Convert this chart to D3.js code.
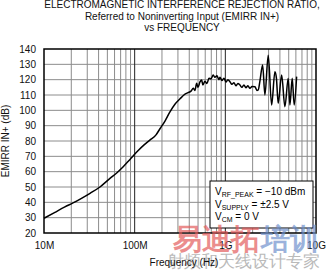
<!DOCTYPE html>
<html>
<head>
<meta charset="utf-8">
<script src="https://cdn.jsdelivr.net/npm/d3@7"></script>
<style>
  body { margin: 0; background: #fff; }
  text { font-family: "Liberation Sans", Arial, sans-serif; }
</style>
</head>
<body>
<div id="chart"></div>
<script>
// frequency in MHz, EMIRR IN+ in dB
const freqMHz = [10, 13.2, 17.0, 20.9, 26.2, 32.2, 41.4, 53.4, 63.8, 74.3, 88.8, 106, 127, 147, 172, 190, 216, 245, 278, 316, 359, 387,
  418, 443, 462, 483, 499, 525, 548, 566, 596, 627, 660, 694, 736, 768, 808, 850, 872, 917, 965, 1015, 1068, 1124, 1182, 1244,
  1309, 1377, 1449, 1524, 1604, 1687, 1775, 1867, 1965, 2121, 2231, 2306, 2407, 2578, 2733, 2972, 3240, 3523, 3659, 3830,
  4176, 4541, 4937, 5154, 5465, 5749, 6111];
const emirr = [29.6, 33.5, 37, 39.6, 42.8, 45.9, 50, 55.6, 59.3, 63, 68, 73, 77.5, 80.6, 84, 88, 93, 99, 104, 107.5, 110.5, 111.5,
  112.5, 114.4, 113, 117.6, 115, 118.5, 119.8, 116.5, 119, 117.5, 121, 120.5, 123, 121.5, 122.5, 120, 121.5, 119.5, 121, 118.5,
  120, 118.7, 117, 118, 116, 117.5, 116.5, 115, 116.5, 114.8, 116, 114.4, 115.5, 115.4, 113, 113.3, 119, 129.6, 110, 136, 103.5,
  125.2, 121, 104.6, 123, 102.4, 120.9, 103.5, 120.9, 103.5, 122];

const yTicks = [20, 30, 40, 50, 60, 70, 80, 90, 100, 110, 120, 130, 140];
const xTicks = [1e7, 1e8, 1e9, 1e10];
const xTickLabels = ["10M", "100M", "1G", "10G"];
const titleLines = ["ELECTROMAGNETIC INTERFERENCE REJECTION RATIO,", "Referred to Noninverting Input (EMIRR IN+)", "vs FREQUENCY"];
const conditions = [["V", "RF_PEAK", " = \u221210 dBm"], ["V", "SUPPLY", " = \u00b12.5 V"], ["V", "CM", " = 0 V"]];

const width = 327, height = 270;
const margin = { top: 49, right: 11, bottom: 37, left: 44 };
const w = width - margin.left - margin.right;
const h = height - margin.top - margin.bottom;

const svg = d3.select("#chart").append("svg")
  .attr("width", width)
  .attr("height", height);

// title
svg.append("g").selectAll("text")
  .data(titleLines)
  .enter().append("text")
  .attr("x", 182)
  .attr("y", (d, i) => 8 + i * 11.6)
  .attr("text-anchor", "middle")
  .attr("font-size", 10)
  .attr("fill", "#111")
  .text(d => d);

const g = svg.append("g")
  .attr("transform", `translate(${margin.left},${margin.top})`);

const x = d3.scaleLog().domain([1e7, 1e10]).range([0, w]);
const y = d3.scaleLinear().domain([20, 140]).range([h, 0]);

// minor vertical grid
const minor = [];
[1e7, 1e8, 1e9].forEach(dec => { for (let k = 2; k <= 9; k++) minor.push(dec * k); });

g.append("g").selectAll("line")
  .data(minor)
  .enter().append("line")
  .attr("x1", d => x(d)).attr("x2", d => x(d))
  .attr("y1", 0).attr("y2", h)
  .attr("stroke", "#8c8c8c")
  .attr("stroke-width", 1);

g.append("g").selectAll("line")
  .data(yTicks.slice(1, -1))
  .enter().append("line")
  .attr("x1", 0).attr("x2", w)
  .attr("y1", d => y(d)).attr("y2", d => y(d))
  .attr("stroke", "#8c8c8c")
  .attr("stroke-width", 1);

g.append("g").selectAll("line")
  .data(xTicks.slice(1, -1))
  .enter().append("line")
  .attr("x1", d => x(d)).attr("x2", d => x(d))
  .attr("y1", 0).attr("y2", h)
  .attr("stroke", "#222")
  .attr("stroke-width", 1);

// watermark
const wm = svg.append("g").attr("opacity", 0.85);
wm.append("text")
  .attr("x", 173).attr("y", 249)
  .attr("font-family", "Noto Sans CJK SC")
  .attr("font-weight", "bold")
  .attr("font-size", 29)
  .attr("fill", "#e35a5a")
  .attr("opacity", 0.8)
  .text("易迪拓");
wm.append("text")
  .attr("x", 261).attr("y", 249)
  .attr("font-family", "Noto Sans CJK SC")
  .attr("font-weight", "bold")
  .attr("font-size", 29)
  .attr("fill", "#6d8fcc")
  .attr("opacity", 0.8)
  .text("培训");
wm.append("text")
  .attr("x", 167).attr("y", 267)
  .attr("font-family", "Noto Sans CJK SC")
  .attr("font-size", 17)
  .attr("fill", "#9a9a9a")
  .attr("opacity", 0.8)
  .text("射频和天线设计专家");

// curve
const data = freqMHz.map((f, i) => ({ f: f * 1e6, v: emirr[i] }));
const line = d3.line()
  .x(d => x(d.f))
  .y(d => y(d.v))
  .curve(d3.curveMonotoneX);

g.append("path")
  .datum(data)
  .attr("fill", "none")
  .attr("stroke", "#000")
  .attr("stroke-width", 1.5)
  .attr("stroke-linejoin", "round")
  .attr("d", line);

// condition box
const box = g.append("g");
box.append("rect")
  .attr("x", 166).attr("y", 132)
  .attr("width", 103).attr("height", 47)
  .attr("fill", "#fff")
  .attr("stroke", "#000")
  .attr("stroke-width", 1);
conditions.forEach((c, i) => {
  const t = box.append("text")
    .attr("x", 171)
    .attr("y", 146 + i * 12.5)
    .attr("font-size", 10)
    .attr("fill", "#000");
  t.append("tspan").text(c[0]);
  t.append("tspan").attr("font-size", 7).attr("dy", 2).text(c[1]);
  t.append("tspan").attr("dy", -2).text(c[2]);
});

// border
g.append("rect")
  .attr("width", w).attr("height", h)
  .attr("fill", "none")
  .attr("stroke", "#000")
  .attr("stroke-width", 1.5);

// axes
const yAxis = g.append("g")
  .call(d3.axisLeft(y).tickValues(yTicks).tickSize(0).tickPadding(8));
yAxis.select(".domain").remove();
yAxis.selectAll("text")
  .attr("font-size", 10)
  .attr("font-family", "Liberation Sans, Arial, sans-serif")
  .attr("fill", "#111");

const xAxis = g.append("g")
  .attr("transform", `translate(0,${h})`)
  .call(d3.axisBottom(x).tickValues(xTicks).tickFormat((d, i) => xTickLabels[i]).tickSize(0).tickPadding(9));
xAxis.select(".domain").remove();
xAxis.selectAll("text")
  .attr("font-size", 10)
  .attr("font-family", "Liberation Sans, Arial, sans-serif")
  .attr("fill", "#111");

// axis titles
svg.append("text")
  .attr("transform", `translate(9,${margin.top + h / 2}) rotate(-90)`)
  .attr("text-anchor", "middle")
  .attr("font-size", 10)
  .attr("fill", "#111")
  .text("EMIRR IN+ (dB)");

svg.append("text")
  .attr("x", 184).attr("y", 266)
  .attr("text-anchor", "middle")
  .attr("font-size", 10)
  .attr("fill", "#111")
  .text("Frequency (Hz)");
</script>
</body>
</html>
